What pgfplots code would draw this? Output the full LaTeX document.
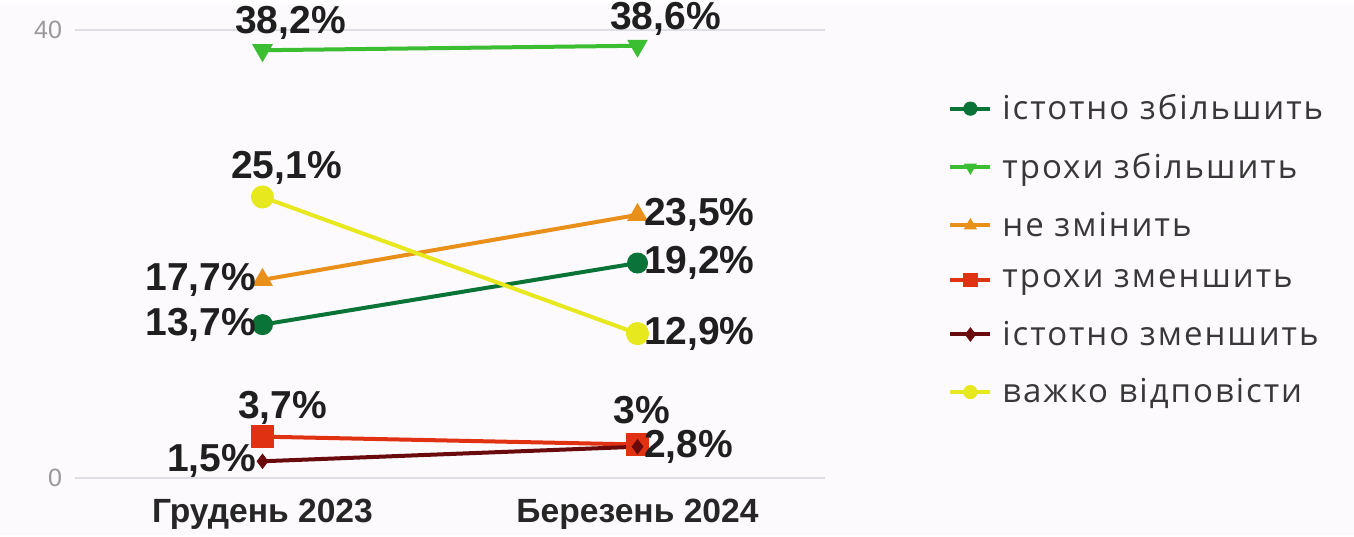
\documentclass[border=0pt]{standalone}
\usepackage{pgfplots}
\pgfplotsset{compat=1.18}
\usepackage{fontspec}
\setmainfont{Liberation Sans}
\newfontfamily\legfont[LetterSpace=6]{Open Sans}

\definecolor{bg}{RGB}{253,250,253}
\definecolor{cDkGreen}{RGB}{10,115,55}
\definecolor{cGreen}{RGB}{60,190,50}
\definecolor{cOrange}{RGB}{232,144,26}
\definecolor{cRed}{RGB}{224,50,18}
\definecolor{cDkRed}{RGB}{105,10,12}
\definecolor{cYellow}{RGB}{232,232,30}
\definecolor{gridc}{RGB}{222,222,230}

\pgfplotsset{
  lbl/.style={
    point meta=y,
    nodes near coords={\pgfmathprintnumber[use comma, fixed, precision=1]{\pgfplotspointmeta}\%},
    every node near coord/.append style={font=\bfseries\fontsize{19.5}{19.5}\selectfont,
        text=black!88, inner sep=1pt},
  },
  % left point label on the left, right point label on the right
  sides/.style={
    coordinate style/.condition={x<0.5}{anchor=east, xshift=-2pt},
    coordinate style/.condition={x>0.5}{anchor=west, xshift=2pt},
  },
}

\begin{document}
\begin{tikzpicture}
\fill[bg] (0,0) rectangle (677pt,265.5pt);
\begin{axis}[
    at={(37.5pt,28.5pt)}, anchor=south west,
    scale only axis,
    width=375pt, height=224pt,
    xmin=-0.5, xmax=1.5,
    ymin=0, ymax=40,
    axis line style={draw=none},
    clip=false,
    xtick={0,1},
    xticklabels={Грудень 2023, Березень 2024},
    ytick={0,40},
    ymajorgrids,
    grid style={gridc, line width=0.8pt},
    major tick length=0pt,
    /pgf/number format/assume math mode=true,
    xticklabel style={font=\bfseries\fontsize{16.8}{16.8}\selectfont, text=black!85, yshift=-7pt},
    yticklabel style={font=\fontsize{12.5}{12.5}\selectfont, text=black!40, xshift=-3pt},
    every axis plot/.append style={line width=2pt},
    legend style={at={(1.164,0.866)}, anchor=north west, draw=none, fill=none,
        font=\legfont\fontsize{16.5}{16.5}\selectfont, text=black!78,
        row sep=11.2pt, column sep=3pt, inner sep=0pt},
    legend cell align=left,
    legend image code/.code={
        \draw[mark repeat=2, mark phase=2, #1, line width=2pt, mark size=3.3pt]
        plot coordinates {(0pt,0pt) (10pt,0pt) (20pt,0pt)};
    },
]
% x: 0 = Грудень 2023, 1 = Березень 2024
\addplot[lbl, sides, cDkGreen, mark=*, mark size=5pt, mark options={line width=0.5pt}]
    coordinates {(0,13.7) (1,19.2)};
\addlegendentry{істотно збільшить}
\addplot[lbl, cGreen, mark=triangle*, mark size=5.5pt, mark options={rotate=180, line width=0.5pt},
    every node near coord/.append style={anchor=south, xshift=14pt, yshift=4pt}]
    coordinates {(0,38.2) (1,38.6)};
\addlegendentry{трохи збільшить}
\addplot[lbl, sides, cOrange, mark=triangle*, mark size=5.5pt, mark options={line width=0.5pt}]
    coordinates {(0,17.7) (1,23.5)};
\addlegendentry{не змінить}
\addplot[lbl, cRed, mark=square*, mark size=5.5pt, mark options={line width=0.5pt},
    coordinate style/.condition={x<0.5}{anchor=south, xshift=10pt, yshift=5pt},
    coordinate style/.condition={x>0.5}{anchor=south, xshift=2pt, yshift=9pt}]
    coordinates {(0,3.7) (1,3.0)};
\addlegendentry{трохи зменшить}
\addplot[lbl, sides, cDkRed, mark=diamond*, mark size=3.5pt, mark options={line width=0.5pt}]
    coordinates {(0,1.5) (1,2.8)};
\addlegendentry{істотно зменшить}
\addplot[lbl, cYellow, mark=*, mark size=5.5pt, mark options={line width=0.5pt},
    coordinate style/.condition={x<0.5}{anchor=south, xshift=12pt, yshift=5pt},
    coordinate style/.condition={x>0.5}{anchor=west, xshift=2pt}]
    coordinates {(0,25.1) (1,12.9)};
\addlegendentry{важко відповісти}
\end{axis}
\end{tikzpicture}
\end{document}
